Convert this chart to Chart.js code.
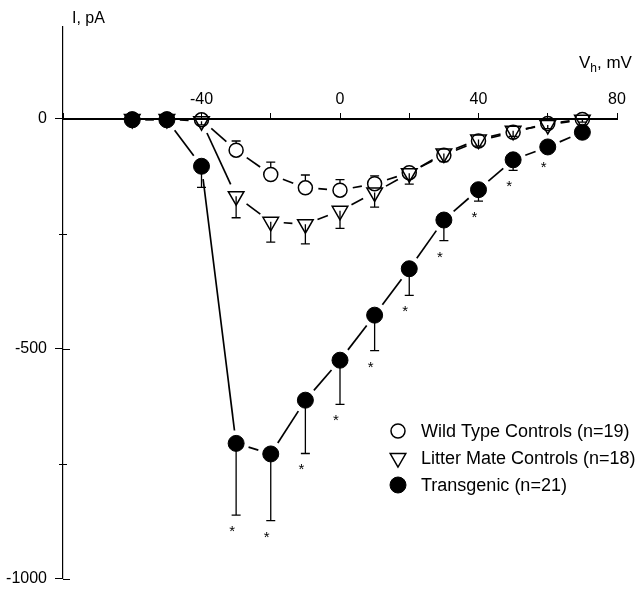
<!DOCTYPE html>
<html><head><meta charset="utf-8">
<script src="https://cdn.jsdelivr.net/npm/chart.js@4.4.0/dist/chart.umd.min.js"></script>
<style>html,body{margin:0;padding:0;background:#fff;}#wrap{width:636px;height:589px;position:relative;}</style>
</head><body><div id="wrap"><canvas id="c" width="636" height="589"></canvas></div>
<script>
// ---- data ----
const voltages = [-60, -50, -40, -30, -20, -10, 0, 10, 20, 30, 40, 50, 60, 70];
const wildTypeMean = [0, 0, -2, -68, -121, -150, -155, -141, -117, -79, -48, -29, -10, -1];
const wildTypeErr  = [0, 0, 0, 20, 27, 28, 23, 17, 14, 10, 8, 6, 5, 4];
const litterMateMean = [0, 0, -5, -168, -224, -229, -200, -160, -118, -75, -45, -26, -13, -2];
const litterMateErr  = [0, 0, 8, 47, 44, 43, 38, 32, 24, 18, 14, 12, 8, 5];
const transgenicMean = [-2, -2, -103, -706, -729, -612, -525, -427, -326, -220, -154, -89, -61, -29];
const transgenicErr  = [0, 0, 46, 156, 145, 116, 96, 77, 58, 45, 25, 23, 8, 5];
const transgenicSignificant = [false, false, false, true, true, true, true, true, true, true, true, true, true, false];
const seriesLabels = ['Wild Type Controls (n=19)', 'Litter Mate Controls (n=18)', 'Transgenic (n=21)'];
const xTickValues = [-80, -60, -40, -20, 0, 20, 40, 60, 80];
const xLabeledTicks = [-40, 0, 40, 80];
const yTickValues = [-1000, -750, -500, -250, 0];
const yLabeledTicks = [0, -500, -1000];
const yAxisTitle = 'I, pA';
const xAxisTitleMain = 'V';
const xAxisTitleSub = 'h';
const xAxisTitleUnit = ', mV';

const FONT = "'Liberation Sans', Arial, Helvetica, sans-serif";
Chart.defaults.font.family = FONT;
Chart.defaults.color = '#000';

const pts = ys => voltages.map((v, i) => ({ x: v, y: ys[i] }));

// extra info per dataset (index matches datasets)
const extra = [
  { err: transgenicErr, dir: -1, radius: 8, fromEdge: false, stars: transgenicSignificant },
  { err: litterMateErr, dir: -1, radius: 9, fromEdge: false },
  { err: wildTypeErr, dir: 1, radius: 7, fromEdge: true }
];

const decor = {
  id: 'ivDecor',
  beforeDatasetsDraw(chart) {
    const ctx = chart.ctx, ys = chart.scales.y;
    chart.data.datasets.forEach((ds, di) => {
      const meta = chart.getDatasetMeta(di);
      const info = extra[di];
      ctx.save();
      ctx.strokeStyle = '#000';
      ctx.lineCap = 'butt';
      ctx.lineWidth = 1.7;
      const g = 13;
      for (let i = 0; i < meta.data.length - 1; i++) {
        const a = meta.data[i], b = meta.data[i + 1];
        const dx = b.x - a.x, dy = b.y - a.y, L = Math.hypot(dx, dy);
        if (L <= 2 * g + 2) continue;
        const ux = dx / L, uy = dy / L;
        ctx.beginPath();
        ctx.moveTo(a.x + ux * g, a.y + uy * g);
        ctx.lineTo(b.x - ux * g, b.y - uy * g);
        ctx.stroke();
      }
      ctx.lineWidth = 1.3;
      meta.data.forEach((p, i) => {
        const e = info.err[i];
        if (!e) return;
        const yEnd = ys.getPixelForValue(ds.data[i].y + info.dir * e);
        const dist = Math.abs(yEnd - p.y);
        if (info.fromEdge && dist <= info.radius) return;
        const s = Math.sign(yEnd - p.y);
        const yStart = info.fromEdge ? p.y + s * info.radius : p.y;
        ctx.beginPath();
        ctx.moveTo(p.x, yStart); ctx.lineTo(p.x, yEnd);
        ctx.moveTo(p.x - 4.5, yEnd); ctx.lineTo(p.x + 4.5, yEnd);
        ctx.stroke();
      });
      ctx.restore();
    });
  },
  afterDatasetsDraw(chart) {
    const ctx = chart.ctx, ys = chart.scales.y;
    chart.data.datasets.forEach((ds, di) => {
      const info = extra[di];
      if (!info.stars) return;
      const meta = chart.getDatasetMeta(di);
      ctx.save();
      ctx.fillStyle = '#000';
      ctx.font = '15px ' + FONT;
      ctx.textAlign = 'center';
      ctx.textBaseline = 'alphabetic';
      meta.data.forEach((p, i) => {
        if (!info.stars[i]) return;
        const yEnd = ys.getPixelForValue(ds.data[i].y + info.dir * info.err[i]);
        ctx.fillText('*', p.x - 4, yEnd + 21);
      });
      ctx.restore();
    });
  },
  afterDraw(chart) {
    const ctx = chart.ctx, ys = chart.scales.y, area = chart.chartArea;
    ctx.save();
    ctx.strokeStyle = '#000';
    ctx.fillStyle = '#000';
    ctx.lineWidth = 1;
    ys.ticks.forEach(t => {
      const y = Math.round(ys.getPixelForValue(t.value)) + 0.5;
      ctx.beginPath();
      if (yLabeledTicks.includes(t.value)) {
        ctx.moveTo(area.left, y); ctx.lineTo(area.left + 7, y);
      } else {
        ctx.moveTo(area.left - 4, y); ctx.lineTo(area.left + 4, y);
      }
      ctx.stroke();
    });
    ctx.textBaseline = 'middle';
    ctx.textAlign = 'left';
    ctx.font = '16px ' + FONT;
    ctx.fillText(yAxisTitle, area.left + 9, 19);
    let x = 579;
    ctx.font = '17px ' + FONT;
    ctx.fillText(xAxisTitleMain, x, 63);
    x += ctx.measureText(xAxisTitleMain).width;
    ctx.font = '12px ' + FONT;
    ctx.fillText(xAxisTitleSub, x, 69);
    x += ctx.measureText(xAxisTitleSub).width;
    ctx.font = '17px ' + FONT;
    ctx.fillText(xAxisTitleUnit, x, 63);
    const order = [2, 1, 0];
    order.forEach((di, row) => {
      const ds = chart.data.datasets[di];
      const y = 431 + row * 27;
      ctx.fillStyle = ds.pointBackgroundColor;
      ctx.strokeStyle = '#000';
      ctx.lineWidth = ds.pointBorderWidth;
      Chart.helpers.drawPoint(ctx, {
        pointStyle: ds.pointStyle, radius: ds.pointRadius,
        rotation: ds.pointRotation || 0, borderWidth: ds.pointBorderWidth
      }, 398, y);
      ctx.fillStyle = '#000';
      ctx.font = '18px ' + FONT;
      ctx.textBaseline = 'middle';
      ctx.fillText(ds.label, 421, y + 1);
    });
    ctx.restore();
  }
};

const zeroPad = s => { s.paddingTop = 0; s.paddingBottom = 0; s.paddingLeft = 0; s.paddingRight = 0; };

new Chart(document.getElementById('c'), {
  type: 'scatter',
  data: {
    datasets: [
      { label: seriesLabels[2], data: pts(transgenicMean), showLine: false,
        pointStyle: 'circle', pointRadius: 8, pointHoverRadius: 8,
        pointBackgroundColor: '#000', pointBorderColor: '#000', pointBorderWidth: 1 },
      { label: seriesLabels[1], data: pts(litterMateMean), showLine: false,
        pointStyle: 'triangle', pointRotation: 180, pointRadius: 9, pointHoverRadius: 9,
        pointBackgroundColor: 'rgba(255,255,255,0)', pointBorderColor: '#000', pointBorderWidth: 1.5 },
      { label: seriesLabels[0], data: pts(wildTypeMean), showLine: false,
        pointStyle: 'circle', pointRadius: 7, pointHoverRadius: 7,
        pointBackgroundColor: 'rgba(255,255,255,0)', pointBorderColor: '#000', pointBorderWidth: 1.5 }
    ]
  },
  options: {
    responsive: false,
    animation: false,
    events: [],
    layout: { padding: { left: 0, top: 27, right: 19, bottom: 10 } },
    plugins: { legend: { display: false }, tooltip: { enabled: false } },
    scales: {
      x: {
        type: 'linear', min: -80, max: 80,
        position: { y: 0 },
        afterBuildTicks: s => { s.ticks = xTickValues.map(v => ({ value: v })); },
        afterFit: zeroPad,
        grid: { drawOnChartArea: false, drawTicks: true, tickLength: -7, tickColor: '#000', tickWidth: 1 },
        border: { display: true, color: '#000', width: 2 },
        ticks: {
          autoSkip: false, maxRotation: 0, minRotation: 0, padding: -22,
          font: { size: 16 }, color: '#000',
          callback: v => xLabeledTicks.includes(v) ? String(v) : ''
        }
      },
      y: {
        type: 'linear', min: -1000, max: 200, position: 'left',
        afterBuildTicks: s => { s.ticks = yTickValues.map(v => ({ value: v })); },
        afterFit: s => { s.width = 63; zeroPad(s); },
        grid: { drawOnChartArea: false, drawTicks: true, tickLength: 8,
          tickColor: c => (c.tick && yLabeledTicks.includes(c.tick.value)) ? '#000' : 'rgba(0,0,0,0)', tickWidth: 1 },
        border: { display: true, color: '#000', width: 1.2 },
        ticks: {
          autoSkip: false, padding: 8,
          font: { size: 16 }, color: '#000',
          callback: v => yLabeledTicks.includes(v) ? String(v) : ''
        }
      }
    }
  },
  plugins: [decor]
});
</script></body></html>
